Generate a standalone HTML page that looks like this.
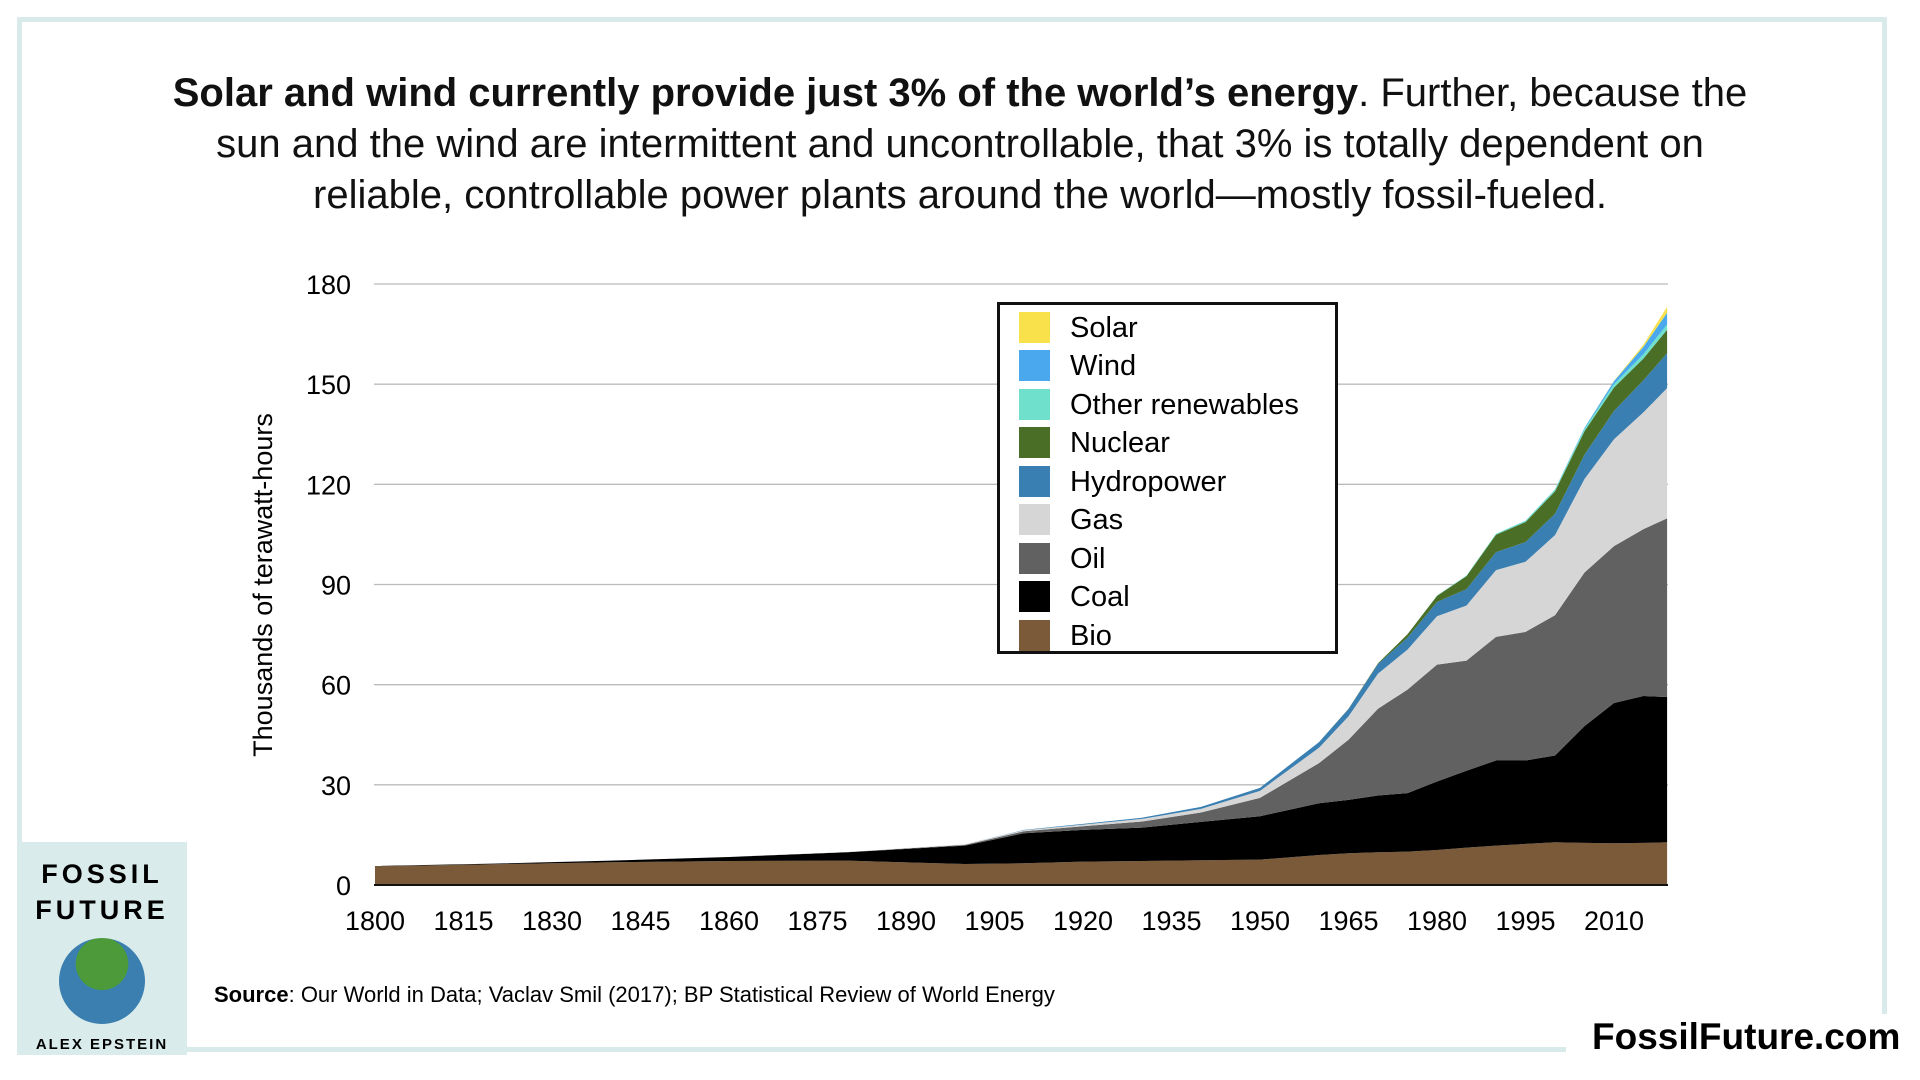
<!DOCTYPE html>
<html><head><meta charset="utf-8"><style>
body{margin:0;width:1920px;height:1080px;background:#fff;position:relative;overflow:hidden;font-family:"Liberation Sans",sans-serif}
.frame{position:absolute;left:17px;top:17px;width:1870px;height:1035px;border:5px solid #d8ebea;box-sizing:border-box}
.title{position:absolute;left:60px;width:1800px;top:68px;text-align:center;font-size:40px;line-height:51px;color:#111;white-space:nowrap}
.leg{position:absolute;left:997px;top:302px;width:341px;height:352px;border:3px solid #111;box-sizing:border-box;background:#fff}
.li{position:absolute;left:19px;height:32px;font-size:29px;line-height:32px}
.li span{display:inline-block;width:31px;height:31px;vertical-align:top;margin-right:20px}
</style></head><body>
<div class="frame"></div>
<div class="title"><b>Solar and wind currently provide just 3% of the world’s energy</b>. Further, because the<br>sun and the wind are intermittent and uncontrollable, that 3% is totally dependent on<br>reliable, controllable power plants around the world—mostly fossil-fueled.</div>
<svg id="chart" width="1920" height="1080" style="position:absolute;left:0;top:0"></svg>
<div class="leg">
<div class="li" style="top:7px"><span style="background:#f8e14a"></span>Solar</div>
<div class="li" style="top:45px"><span style="background:#4aa9ee"></span>Wind</div>
<div class="li" style="top:84px"><span style="background:#6ee0cc"></span>Other renewables</div>
<div class="li" style="top:122px"><span style="background:#4a6e26"></span>Nuclear</div>
<div class="li" style="top:161px"><span style="background:#3a7fb2"></span>Hydropower</div>
<div class="li" style="top:199px"><span style="background:#d6d6d6"></span>Gas</div>
<div class="li" style="top:238px"><span style="background:#616161"></span>Oil</div>
<div class="li" style="top:276px"><span style="background:#000"></span>Coal</div>
<div class="li" style="top:315px"><span style="background:#7a5a38"></span>Bio</div>
</div>
<div style="position:absolute;left:17px;top:842px;width:170px;height:213px;background:#d9ebea;text-align:center">
<div style="font-size:27px;font-weight:bold;letter-spacing:4px;margin-top:14px;line-height:36px">FOSSIL<br>FUTURE</div>
<div style="width:86px;height:86px;border-radius:50%;background:radial-gradient(circle at 50% 30%,#4c9a3a 0 35%,#3a7fb0 36%);margin:10px auto 0"></div>
<div style="font-size:15px;font-weight:bold;letter-spacing:2px;margin-top:12px">ALEX EPSTEIN</div>
</div>
<div style="position:absolute;left:214px;top:982px;font-size:22px"><b>Source</b>: Our World in Data; Vaclav Smil (2017); BP Statistical Review of World Energy</div>
<div style="position:absolute;left:1566px;top:1014px;width:354px;height:66px;background:#fff"></div>
<div style="position:absolute;left:1592px;top:1016px;font-size:37px;font-weight:bold">FossilFuture.com</div>
<script>
const years=[1800,1820,1840,1860,1880,1900,1910,1920,1930,1940,1950,1960,1965,1970,1975,1980,1985,1990,1995,2000,2005,2010,2015,2019];
const bio=[5.6,6.2,6.8,7.2,7.3,6.3,6.5,7,7.2,7.4,7.6,9,9.5,9.8,10,10.5,11.2,11.8,12.3,12.8,12.6,12.5,12.6,12.8];
const coal=[0.1,0.2,0.5,1.2,2.5,5.5,9,9.5,10,11.5,13,15.5,16,17,17.5,20.5,23,25.5,25,26,35,42,44,43.5];
const oil=[0,0,0,0,0.05,0.2,0.6,1.1,1.8,2.8,5.5,12,18,26,31,35,33,37,38.5,42,46,47,50,53.5];
const gas=[0,0,0,0,0.05,0.2,0.3,0.5,0.8,1.1,2.1,4.6,7,10.5,12,14.5,16.5,20,21,24,28,32,35,39];
const hydro=[0,0,0,0,0,0.02,0.1,0.2,0.35,0.6,0.9,1.7,2.2,2.9,3.6,4.3,4.9,5.4,5.9,6.4,7.3,8.5,9.6,10.5];
const nuclear=[0,0,0,0,0,0,0,0,0,0,0,0,0.1,0.2,1,1.8,3.9,5.2,6,6.7,7,7,6.5,7];
const otherRenew=[0,0,0,0,0,0,0,0,0,0,0,0,0,0,0,0.1,0.2,0.3,0.4,0.5,0.7,1,1.3,1.6];
const wind=[0,0,0,0,0,0,0,0,0,0,0,0,0,0,0,0,0,0,0.02,0.08,0.3,0.9,2.2,3.5];
const solar=[0,0,0,0,0,0,0,0,0,0,0,0,0,0,0,0,0,0,0,0,0.01,0.08,0.65,1.8];
const yTicks=[0,30,60,90,120,150,180];
const xTicks=[1800,1815,1830,1845,1860,1875,1890,1905,1920,1935,1950,1965,1980,1995,2010];
const seriesNames=["bio","coal","oil","gas","hydro","nuclear","other-renewables","wind","solar"];
const NS="http://www.w3.org/2000/svg";
const svg=document.getElementById('chart');
const X=y=>375+(y-1800)*5.9;
const Y=v=>885-v*601/180;
const series=[bio,coal,oil,gas,hydro,nuclear,otherRenew,wind,solar];
const colors=["#7a5a38","#000","#616161","#d6d6d6","#3a7fb2","#4a6e26","#6ee0cc","#4aa9ee","#f8e14a"];
function mk(t,a){const e=document.createElementNS(NS,t);for(const k in a)e.setAttribute(k,a[k]);svg.appendChild(e);return e;}
yTicks.forEach(v=>{
 if(v>0){const l=mk('line',{x1:374,x2:1668,y1:Y(v),y2:Y(v),stroke:'#bbb','stroke-width':1.3});
 
 }
 const t=mk('text',{x:351,y:Y(v)+10,'text-anchor':'end','font-size':27,'font-family':'Liberation Sans'});t.textContent=v;
 
 
});
xTicks.forEach(y=>{const t=mk('text',{x:X(y),y:930,'text-anchor':'middle','font-size':27,'font-family':'Liberation Sans'});t.textContent=y;
 
 });
let base=years.map(()=>0);
series.forEach((s,i)=>{
 const top=base.map((b,j)=>b+s[j]);
 let d='M'+years.map((y,j)=>X(y)+','+Y(top[j])).join('L');
 for(let j=years.length-1;j>=0;j--)d+='L'+X(years[j])+','+Y(base[j]);
 const p=mk('path',{d:d+'Z',fill:colors[i]});
 
 
 base=top;
});
const ax=mk('line',{x1:374,x2:1668,y1:885,y2:885,stroke:'#111','stroke-width':2});


const yl=mk('text',{transform:'translate(272,585) rotate(-90)','text-anchor':'middle','font-size':27,'font-family':'Liberation Sans'});
yl.textContent='Thousands of terawatt-hours';


</script>
</body></html>
